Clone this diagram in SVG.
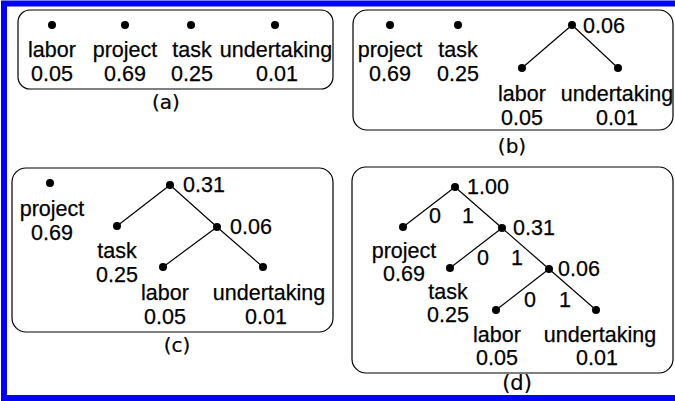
<svg xmlns="http://www.w3.org/2000/svg" width="675" height="401" viewBox="0 0 675 401">
<style>
text{font-family:"Liberation Sans",Arial,sans-serif;font-size:21.5px;fill:#000;stroke:#000;stroke-width:0.25}
.c{text-anchor:middle}
.lbl{font-family:"DejaVu Sans",sans-serif;font-size:20px;stroke-width:0.2}
.panel{fill:#fff;stroke:#000;stroke-width:1.2}
.e{stroke:#000;stroke-width:1.2;fill:none}
.d{fill:#000}
</style>
<rect x="0" y="0" width="675" height="401" fill="#fff"/>
<rect x="4" y="3.5" width="700" height="394.5" fill="none" stroke="#0000ff" stroke-width="6"/>

<!-- Panel a -->
<g id="panel-a">
<rect class="panel" x="18" y="10" width="315" height="79" rx="12"/>
<text class="c lbl" x="166" y="109">(a)</text>
</g>
<g id="a-labor"><circle class="d" cx="52" cy="25" r="4"/><text class="c" x="52" y="57">labor</text><text class="c" x="52" y="81">0.05</text></g>
<g id="a-project"><circle class="d" cx="125" cy="25" r="4"/><text class="c" x="125" y="57">project</text><text class="c" x="125" y="81">0.69</text></g>
<g id="a-task"><circle class="d" cx="191" cy="25" r="4"/><text class="c" x="192" y="57">task</text><text class="c" x="192" y="81">0.25</text></g>
<g id="a-undertaking"><circle class="d" cx="275" cy="25" r="4"/><text class="c" x="276" y="57">undertaking</text><text class="c" x="277" y="81">0.01</text></g>

<!-- Panel b -->
<g id="panel-b">
<rect class="panel" x="353" y="10" width="320" height="120" rx="14"/>
<text class="c lbl" x="512" y="153">(b)</text>
</g>
<g id="b-connectors">
<line class="e" x1="572" y1="25" x2="522" y2="68"/>
<line class="e" x1="572" y1="25" x2="618" y2="68"/>
</g>
<g id="b-project"><circle class="d" cx="390" cy="25" r="4"/><text class="c" x="390" y="57">project</text><text class="c" x="390" y="81">0.69</text></g>
<g id="b-task"><circle class="d" cx="458" cy="25" r="4"/><text class="c" x="458" y="57">task</text><text class="c" x="458" y="81">0.25</text></g>
<g id="b-n006"><circle class="d" cx="572" cy="25" r="4"/><text x="583" y="33">0.06</text></g>
<g id="b-labor"><circle class="d" cx="522" cy="68" r="4"/><text class="c" x="522" y="101">labor</text><text class="c" x="522" y="125">0.05</text></g>
<g id="b-undertaking"><circle class="d" cx="618" cy="68" r="4"/><text class="c" x="617" y="101">undertaking</text><text class="c" x="617" y="125">0.01</text></g>

<!-- Panel c -->
<g id="panel-c">
<rect class="panel" x="12" y="168" width="321" height="164" rx="14"/>
<text class="c lbl" x="177" y="352">(c)</text>
</g>
<g id="c-connectors">
<line class="e" x1="170" y1="185" x2="117" y2="226"/>
<line class="e" x1="170" y1="185" x2="217" y2="227"/>
<line class="e" x1="217" y1="227" x2="163" y2="267"/>
<line class="e" x1="217" y1="227" x2="263" y2="267"/>
</g>
<g id="c-project"><circle class="d" cx="50" cy="183" r="4"/><text class="c" x="52" y="216">project</text><text class="c" x="52" y="240">0.69</text></g>
<g id="c-n031"><circle class="d" cx="170" cy="185" r="4"/><text x="183" y="192">0.31</text></g>
<g id="c-task"><circle class="d" cx="117" cy="226" r="4"/><text class="c" x="117" y="258">task</text><text class="c" x="117" y="282">0.25</text></g>
<g id="c-n006"><circle class="d" cx="217" cy="227" r="4"/><text x="230" y="234">0.06</text></g>
<g id="c-labor"><circle class="d" cx="163" cy="267" r="4"/><text class="c" x="165" y="300">labor</text><text class="c" x="165" y="324">0.05</text></g>
<g id="c-undertaking"><circle class="d" cx="263" cy="267" r="4"/><text class="c" x="269" y="300">undertaking</text><text class="c" x="266" y="324">0.01</text></g>

<!-- Panel d -->
<g id="panel-d">
<rect class="panel" x="352" y="167" width="321" height="206" rx="14"/>
<text class="c lbl" x="517" y="390" style="font-size:21px">(d)</text>
</g>
<g id="d-connectors">
<line class="e" x1="455" y1="187" x2="403" y2="227"/>
<line class="e" x1="455" y1="187" x2="502" y2="228"/>
<line class="e" x1="502" y1="228" x2="450" y2="268"/>
<line class="e" x1="502" y1="228" x2="549" y2="269"/>
<line class="e" x1="549" y1="269" x2="496" y2="310"/>
<line class="e" x1="549" y1="269" x2="596" y2="310"/>
<text class="c" x="435" y="223">0</text>
<text class="c" x="468" y="223">1</text>
<text class="c" x="483" y="265">0</text>
<text class="c" x="517" y="265">1</text>
<text class="c" x="530" y="307">0</text>
<text class="c" x="565" y="307">1</text>
</g>
<g id="d-n100"><circle class="d" cx="455" cy="187" r="4"/><text x="467" y="194">1.00</text></g>
<g id="d-project"><circle class="d" cx="403" cy="227" r="4"/><text class="c" x="404" y="258">project</text><text class="c" x="404" y="281">0.69</text></g>
<g id="d-n031"><circle class="d" cx="502" cy="228" r="4"/><text x="513" y="235">0.31</text></g>
<g id="d-task"><circle class="d" cx="450" cy="268" r="4"/><text class="c" x="448" y="299">task</text><text class="c" x="448" y="322">0.25</text></g>
<g id="d-n006"><circle class="d" cx="549" cy="269" r="4"/><text x="558" y="276">0.06</text></g>
<g id="d-labor"><circle class="d" cx="496" cy="310" r="4"/><text class="c" x="497" y="342">labor</text><text class="c" x="497" y="365">0.05</text></g>
<g id="d-undertaking"><circle class="d" cx="596" cy="310" r="4"/><text class="c" x="600" y="342">undertaking</text><text class="c" x="597" y="365">0.01</text></g>
</svg>
